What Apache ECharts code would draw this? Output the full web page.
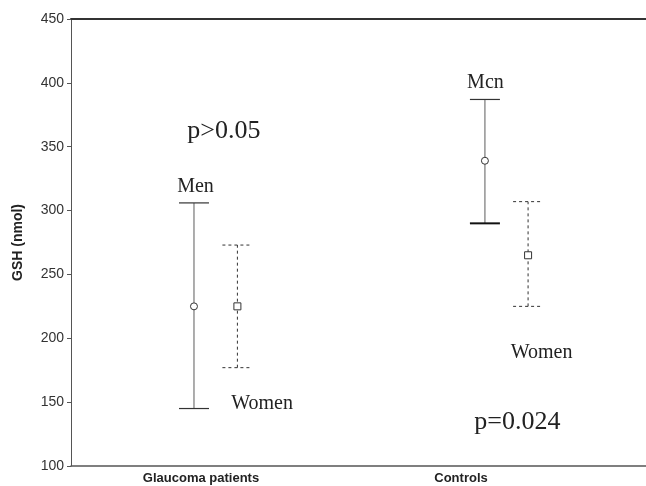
<!DOCTYPE html>
<html>
<head>
<meta charset="utf-8">
<script src="https://cdn.jsdelivr.net/npm/echarts@6/dist/echarts.min.js"></script>
<style>html,body{margin:0;padding:0;background:#fff}#c{width:646px;height:486px}</style>
</head>
<body>
<div id="c"></div>
<script>
// ---- data ----
const categories = ['Glaucoma patients', 'Controls'];
const menMean = [225, 339];
const menLow = [145, 290];
const menHigh = [306, 387];
const womenMean = [225, 265];
const womenLow = [177, 225];
const womenHigh = [273, 307];
const yTicks = [100, 150, 200, 250, 300, 350, 400, 450];
const annotationTexts = ['p>0.05', 'Men', 'Women', 'Mcn', 'Women', 'p=0.024'];
const annotationValues = [362.5, 318.5, 149, 400, 189, 134];

// ---- layout (positions within category bands, not data) ----
const menOffset = [-0.027, 0.092];
const womenOffset = [0.14, 0.258];
const annotationX = [0.588, 0.479, 0.735, 1.594, 1.810, 1.717];
const annotationSize = [26, 20, 20, 20, 20, 26];

const chart = echarts.init(document.getElementById('c'));

function barData(mean, low, high, offsets, kind) {
  return mean.map((m, i) => [i + 0.5 + offsets[i], low[i], m, high[i], kind, i]);
}

function renderBar(params, api) {
  const x = api.value(0);
  const pLow = api.coord([x, api.value(1)]);
  const pMean = api.coord([x, api.value(2)]);
  const pHigh = api.coord([x, api.value(3)]);
  const kind = api.value(4);
  const cap = 15;
  const dashed = kind === 1;
  const lineStyle = dashed
    ? { stroke: '#333', lineWidth: 1, lineDash: [3, 3] }
    : { stroke: '#777', lineWidth: 1.2 };
  const capStyle = dashed
    ? { stroke: '#333', lineWidth: 1, lineDash: [3, 3] }
    : { stroke: '#333', lineWidth: 1.2 };
  const children = [
    { type: 'line', shape: { x1: pLow[0], y1: pLow[1], x2: pHigh[0], y2: pHigh[1] }, style: lineStyle },
    { type: 'line', shape: { x1: pHigh[0] - cap, y1: pHigh[1], x2: pHigh[0] + cap, y2: pHigh[1] }, style: capStyle },
    { type: 'line', shape: { x1: pLow[0] - cap, y1: pLow[1], x2: pLow[0] + cap, y2: pLow[1] },
      style: (!dashed && api.value(5) === 1) ? { stroke: '#111', lineWidth: 2 } : capStyle }
  ];
  if (dashed) {
    children.push({ type: 'rect', shape: { x: pMean[0] - 3.5, y: pMean[1] - 3.5, width: 7, height: 7 },
      style: { fill: '#fff', stroke: '#333', lineWidth: 1 } });
  } else {
    children.push({ type: 'circle', shape: { cx: pMean[0], cy: pMean[1], r: 3.5 },
      style: { fill: '#fff', stroke: '#333', lineWidth: 1 } });
  }
  return { type: 'group', children };
}

const annData = annotationTexts.map((t, i) => [annotationX[i], annotationValues[i], t, annotationSize[i]]);

chart.setOption({
  animation: false,
  grid: { left: 71, top: 19, width: 780, height: 447, outerBoundsMode: 'none', containLabel: false },
  xAxis: [
    {
      type: 'category',
      data: categories.concat(['']),
      boundaryGap: true,
      position: 'bottom',
      axisLine: { lineStyle: { color: '#555', width: 1.5 } },
      axisTick: { alignWithLabel: true, inside: true, length: 3, lineStyle: { color: '#555' },
        interval: (idx) => idx < categories.length },
      axisLabel: { color: '#222', fontFamily: 'Liberation Sans, Arial, sans-serif', fontWeight: 'bold',
        fontSize: 13, margin: 6 },
      splitLine: { show: false }
    },
    {
      type: 'value',
      min: 0,
      max: 3,
      position: 'top',
      axisLine: { show: true, lineStyle: { color: '#333', width: 2 } },
      axisTick: { show: false },
      axisLabel: { show: false },
      splitLine: { show: false }
    }
  ],
  yAxis: {
    type: 'value',
    min: yTicks[0],
    max: yTicks[yTicks.length - 1],
    interval: 50,
    name: 'GSH (nmol)',
    nameLocation: 'middle',
    nameGap: 46,
    nameTextStyle: { color: '#222', fontFamily: 'Liberation Sans, Arial, sans-serif', fontWeight: 'bold', fontSize: 14 },
    axisLine: { show: true, lineStyle: { color: '#555', width: 1 } },
    axisTick: { show: true, length: 4, lineStyle: { color: '#555' } },
    axisLabel: { color: '#333', fontFamily: 'Liberation Sans, Arial, sans-serif', fontSize: 14, margin: 7 },
    splitLine: { show: false }
  },
  series: [
    {
      type: 'custom', name: 'Men', xAxisIndex: 1, yAxisIndex: 0,
      renderItem: renderBar,
      data: barData(menMean, menLow, menHigh, menOffset, 0)
    },
    {
      type: 'custom', name: 'Women', xAxisIndex: 1, yAxisIndex: 0,
      renderItem: renderBar,
      data: barData(womenMean, womenLow, womenHigh, womenOffset, 1)
    },
    {
      type: 'custom', name: 'annotations', xAxisIndex: 1, yAxisIndex: 0,
      renderItem: function (params, api) {
        const p = api.coord([api.value(0), api.value(1)]);
        const d = annData[params.dataIndex];
        return {
          type: 'text',
          x: p[0], y: p[1],
          style: { text: d[2], fill: '#222', font: d[3] + 'px "Liberation Serif", "DejaVu Serif", serif',
            align: 'center', verticalAlign: 'middle' }
        };
      },
      data: annData.map(d => [d[0], d[1]])
    }
  ]
});
</script>
</body>
</html>
